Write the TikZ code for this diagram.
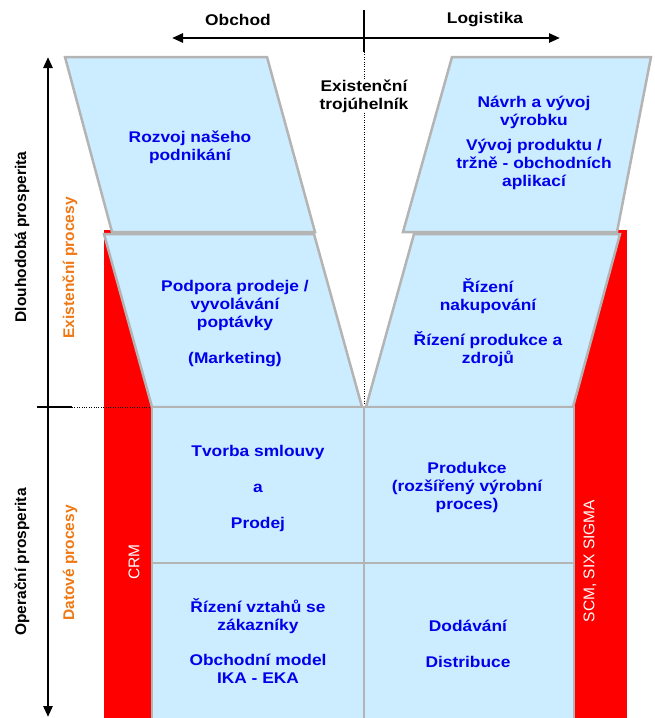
\documentclass[tikz,border=0pt]{standalone}
\usepackage{fontspec}
\setmainfont{Liberation Sans}
\newfontfamily\widesans[FakeStretch=1.12]{Liberation Sans}
\usetikzlibrary{arrows.meta}

\definecolor{cellblue}{RGB}{204,236,255}
\definecolor{cellgray}{RGB}{180,180,180}
\definecolor{txtblue}{RGB}{0,0,235}
\definecolor{procorange}{RGB}{240,120,20}
\definecolor{barred}{RGB}{255,0,0}

\begin{document}
\begin{tikzpicture}[x=1pt,y=-1pt,
	cell/.style={fill=cellblue,draw=cellgray,line width=2.5pt},
	bluetxt/.style={text=txtblue,font=\widesans\fontsize{15.5}{18}\selectfont\bfseries,align=center,inner sep=0pt},
	blacktxt/.style={font=\widesans\fontsize{15.5}{18}\selectfont\bfseries,align=center,inner sep=0pt},
	sidetxt/.style={font=\fontsize{15.5}{18}\selectfont\bfseries,rotate=90,inner sep=0pt},
	bartxt/.style={text=white,font=\fontsize{15.5}{18}\selectfont,rotate=90,inner sep=0pt},
	axis/.style={line width=2.5pt,{Triangle[length=11pt,width=9pt]}-{Triangle[length=11pt,width=9pt]}},
	guide/.style={thin,dotted}]
	\useasboundingbox (0,0) rectangle (654,718);
	\clip (0,0) rectangle (654,718);
	% red bars
	\fill[barred] (104,230) rectangle (152,725);
	\fill[barred] (574,230) rectangle (627,725);
	% existential triangle
	\draw[cell] (104,234) -- (314,234) -- (362,407) -- (152,407) -- cycle;
	\draw[cell] (414,234) -- (620,234) -- (573,407) -- (366,407) -- cycle;
	\draw[cell] (65,57) -- (267,57) -- (315,232) -- (112,232) -- cycle;
	\draw[cell] (452,57) -- (651,57) -- (617,232) -- (403,232) -- cycle;
	% data processes
	\draw[cell] (152,407) rectangle (364,563);
	\draw[cell] (364,407) rectangle (574,563);
	\draw[cell] (152,563) rectangle (364,725);
	\draw[cell] (364,563) rectangle (574,725);

	% top axis
	\coordinate (mid) at (364,38);
	\coordinate (obl) at (172,38);
	\coordinate (lgr) at (560,38);
	\draw[axis] (obl) -- (lgr);
	\draw[line width=2.5pt] (364,10) -- (364,52);
	\node[blacktxt] (obchod) at (238,20) {Obchod};
	\node[blacktxt] (logist) at (485,20) {Logistika};
	\node[blacktxt] (trojuh) at (364,96) {Existenční\\trojúhelník};
	\draw[guide] (364,52) -- (trojuh.north);
	\draw[guide] (trojuh.south) -- (364,405);

	% left axis
	\coordinate (dtop) at (48,57);
	\coordinate (dbot) at (48,717);
	\draw[axis] (dtop) -- (dbot);
	\draw[line width=2pt] (37,407) -- (72,407);
	\draw[guide] (72,407) -- (150,407);
	\node[sidetxt] (dlouh) at (22,237) {Dlouhodobá prosperita};
	\node[sidetxt] (operac) at (22,562) {Operační prosperita};
	\node[sidetxt,text=procorange] (exproc) at (70,268) {Existenční procesy};
	\node[sidetxt,text=procorange] (datproc) at (70,563) {Datové procesy};
	\node[bartxt] (crm) at (134,562) {CRM};
	\node[bartxt] (scm) at (590,561) {SCM, SIX SIGMA};

	% texts
	\node[bluetxt] (rozvoj) at (190,147) {Rozvoj našeho\\podnikání};
	\node[bluetxt] (navrh) at (534,112) {Návrh a vývoj\\výrobku};
	\node[bluetxt] (vyvoj) at (534,164) {Vývoj produktu /\\tržně - obchodních\\aplikací};
	\node[bluetxt] (podpora) at (235,305) {Podpora prodeje /\\vyvolávání\\poptávky};
	\node[bluetxt] (market) at (235,360) {(Marketing)};
	\node[bluetxt] (nakup) at (488,296) {Řízení\\nakupování};
	\node[bluetxt] (zdroje) at (488,349) {Řízení produkce a\\zdrojů};
	\node[bluetxt] (tvorba) at (258,452) {Tvorba smlouvy};
	\node[bluetxt] (tvorbaa) at (258,488) {a};
	\node[bluetxt] (prodej) at (258,524) {Prodej};
	\node[bluetxt] (produkce) at (467,487) {Produkce\\(rozšířený výrobní\\proces)};
	\node[bluetxt] (vztahy) at (258,616) {Řízení vztahů se\\zákazníky};
	\node[bluetxt] (model) at (258,669) {Obchodní model\\IKA - EKA};
	\node[bluetxt] (dodavani) at (468,626) {Dodávání};
	\node[bluetxt] (distrib) at (468,662) {Distribuce};
\end{tikzpicture}
\end{document}
